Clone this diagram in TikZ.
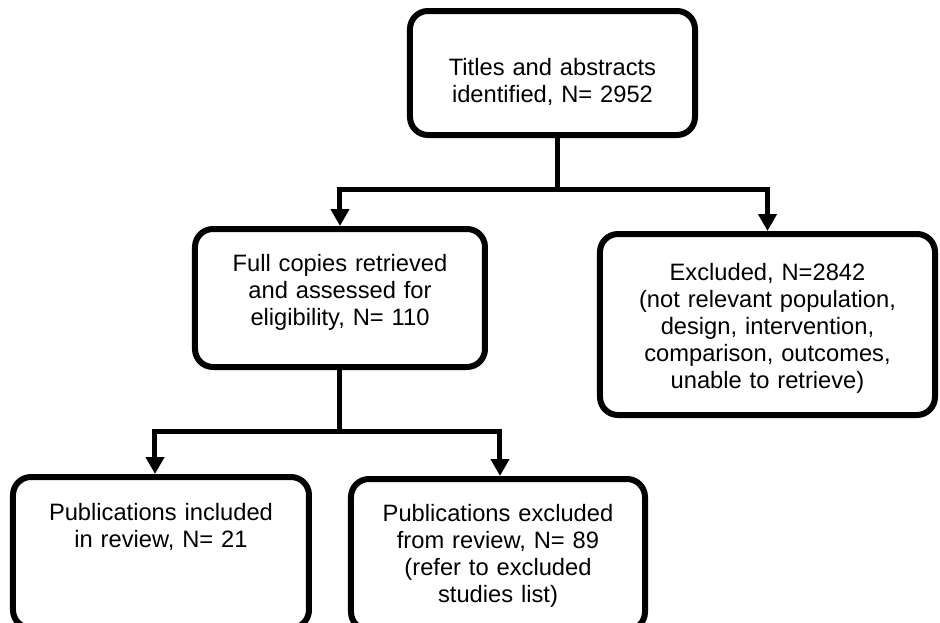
\documentclass[tikz,border=0pt]{standalone}
\usepackage{fontspec}
\setmainfont{Liberation Sans}
\usetikzlibrary{arrows.meta}

\begin{document}
\begin{tikzpicture}[node distance=225pt,
    >={Triangle[length=17pt,width=18pt]},
    every node/.style={font=\fontsize{23.7}{27}\selectfont},
    stage/.style={rectangle, draw, line width=6pt, rounded corners=18pt, inner xsep=5pt, inner ysep=0pt, align=center},
    link/.style={line width=5pt}]

\useasboundingbox (-552.5pt,73pt) rectangle (387.5pt,-549pt);

% Start
\node[stage, text width=275pt, text height=64.5pt, text depth=59.5pt] (titles) {Titles and abstracts\\identified, N= 2952};

% Second row
\node[stage, text width=280pt, text height=42.5pt, text depth=95.5pt, below of=titles, xshift=-212.5pt] (fullcopies) {Full copies retrieved\\and assessed for\\eligibility, N= 110};
\node[stage, text width=325pt, text height=46.5pt, text depth=134.5pt, below of=titles, xshift=215pt, yshift=-26.5pt] (excluded) {Excluded, N=2842\\(not relevant population,\\design, intervention,\\comparison, outcomes,\\unable to retrieve)};

% Third row
\node[stage, text width=286pt, text height=43.5pt, text depth=107.5pt, below of=fullcopies, xshift=-179pt, yshift=-29.5pt] (included) {Publications included\\in review, N= 21};
\node[stage, text width=284pt, text height=42.5pt, text depth=108.5pt, below of=fullcopies, xshift=158pt, yshift=-31.5pt] (pubexcl) {Publications excluded\\from review, N= 89\\(refer to excluded\\studies list)};

% Branch points
\coordinate (split1) at ([xshift=5.5pt,yshift=-51pt]titles.south);
\coordinate (split2) at ([yshift=-61pt]fullcopies.south);

% Arrows
\draw[link] ([xshift=5.5pt]titles.south) -- (split1);
\draw[link,->] (split1) -| (fullcopies.north);
\draw[link,->] (split1) -| (excluded.north);
\draw[link] (fullcopies.south) -- (split2);
\draw[link,->] (split2) -| ([xshift=-6pt]included.north);
\draw[link,->] (split2) -| ([xshift=2pt]pubexcl.north);
\end{tikzpicture}
\end{document}
